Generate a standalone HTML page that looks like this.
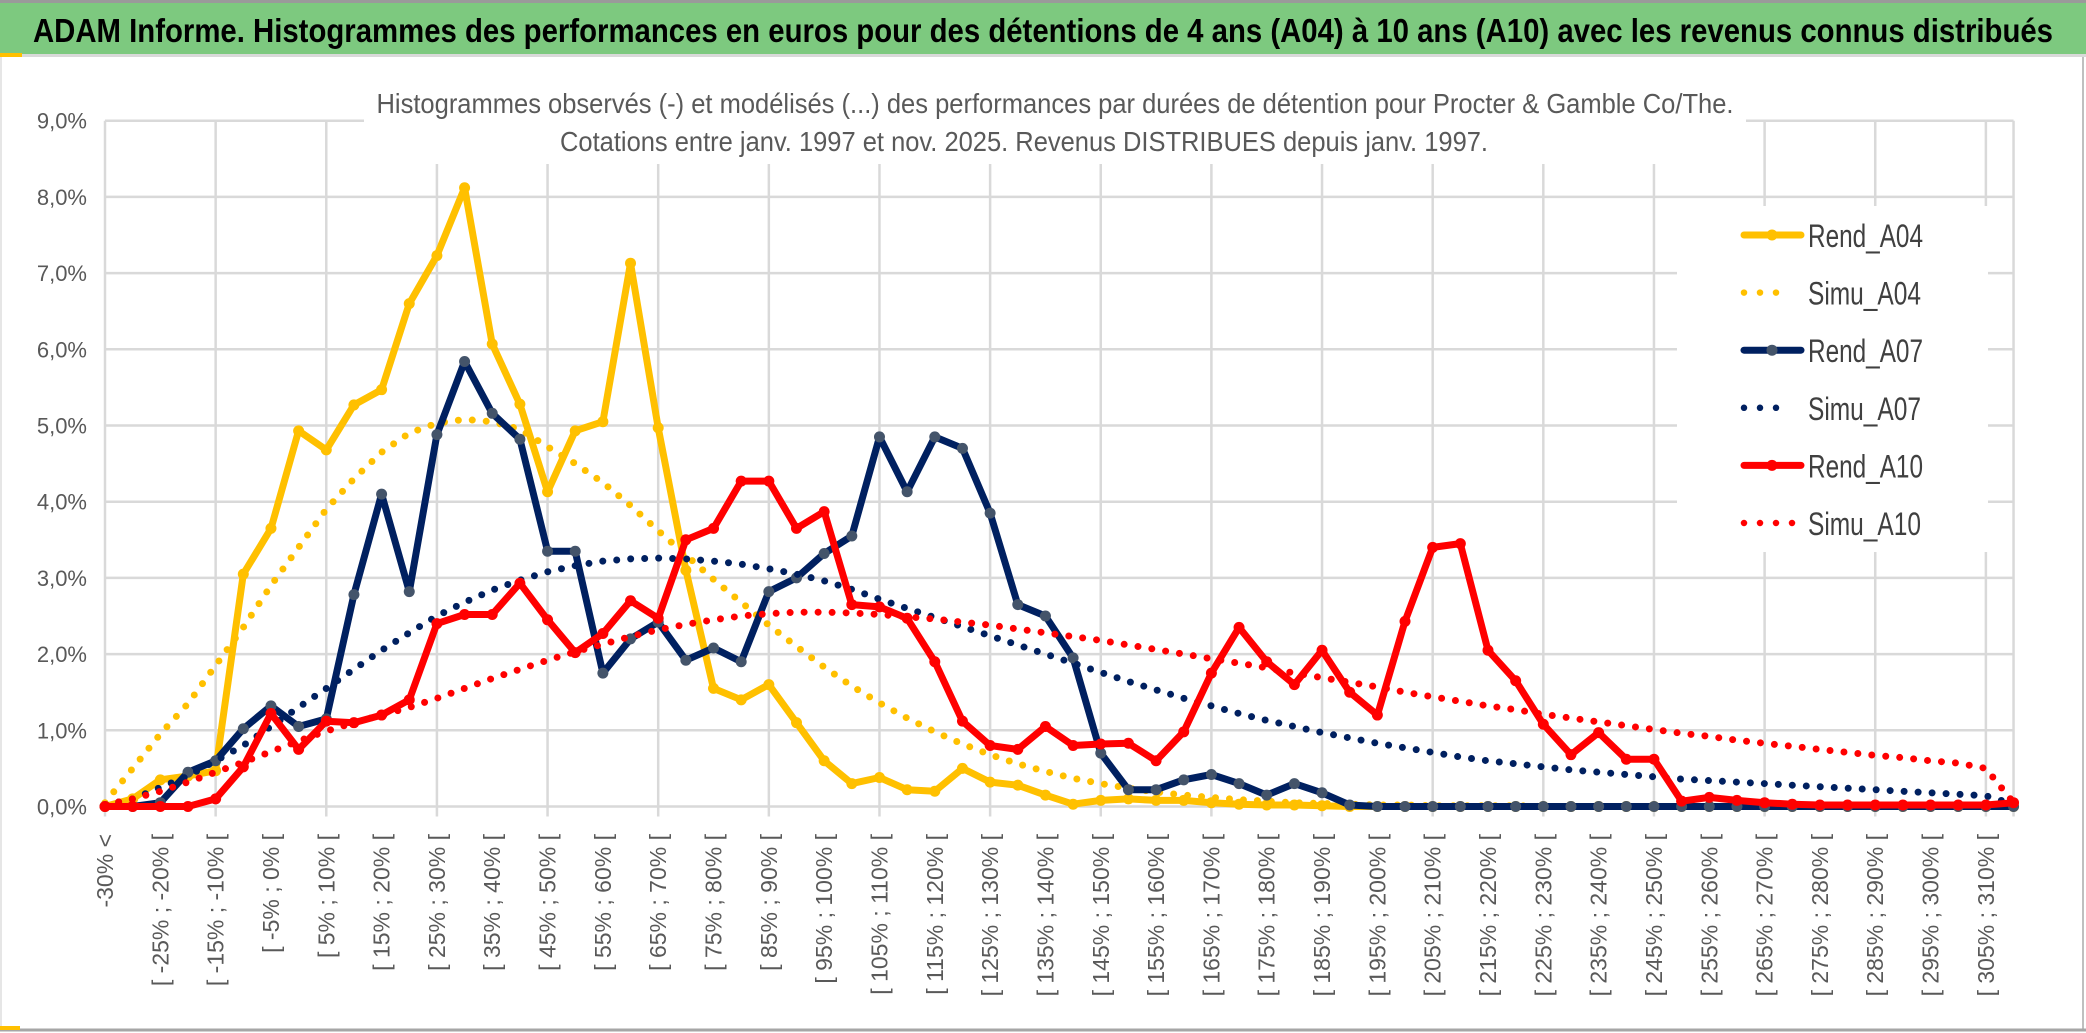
<!DOCTYPE html>
<html><head><meta charset="utf-8"><style>
html,body{margin:0;padding:0;background:#fff;}
svg{display:block;}
</style></head><body>
<svg id="chart" width="2086" height="1033" viewBox="0 0 2086 1033" xmlns="http://www.w3.org/2000/svg" font-family="'Liberation Sans', sans-serif">
<rect x="0" y="0" width="2086" height="1033" fill="#fff"/>
<rect x="0" y="3" width="2086" height="51" fill="#7DC97F"/>
<rect x="0" y="0" width="2086" height="3" fill="#9a9a9a"/>
<rect x="0" y="54" width="2086" height="3" fill="#d9d9d9"/>
<rect x="0" y="53" width="22" height="4" fill="#FFC000"/>
<text x="33" y="42" font-size="33" font-weight="bold" fill="#000" textLength="2020" lengthAdjust="spacingAndGlyphs">ADAM Informe. Histogrammes des performances en euros pour des détentions de 4 ans (A04) à 10 ans (A10) avec les revenus connus distribués</text>
<line x1="2083" y1="57" x2="2083" y2="1030" stroke="#bfbfbf" stroke-width="2"/>
<line x1="1" y1="57" x2="1" y2="1030" stroke="#e6e6e6" stroke-width="2"/>
<line x1="0" y1="1030" x2="2086" y2="1030" stroke="#a6a6a6" stroke-width="3"/>
<rect x="0" y="1026" width="20" height="4" fill="#FFC000"/>
<g id="grid"></g>
<rect x="364" y="80" width="1382" height="84" fill="#fff"/>
<text x="1055" y="113" font-size="28" fill="#595959" text-anchor="middle" textLength="1357" lengthAdjust="spacingAndGlyphs">Histogrammes observés (-) et modélisés (...) des performances par durées de détention pour Procter &amp; Gamble Co/The.</text>
<text x="1024" y="151" font-size="28" fill="#595959" text-anchor="middle" textLength="928" lengthAdjust="spacingAndGlyphs">Cotations entre janv. 1997 et nov. 2025. Revenus DISTRIBUES depuis janv. 1997.</text>
<g id="yticks"></g>
<g id="xticks"></g>
<g id="series"></g>
<g id="legend"></g>
</svg>
<script>
const rendA04 = [0,0.1,0.35,0.4,0.47,3.05,3.65,4.93,4.68,5.27,5.47,6.6,7.23,8.12,6.07,5.28,4.13,4.93,5.05,7.13,4.97,3.1,1.55,1.4,1.6,1.1,0.6,0.3,0.38,0.22,0.2,0.5,0.32,0.28,0.15,0.03,0.08,0.1,0.08,0.08,0.05,0.03,0.02,0.02,0.01,0,0,0,0,0,0,0,0,0,0,0,0,0,0,0,0,0,0,0,0,0,0,0,0,0];
const simuA04 = [0.05,0.5,0.95,1.35,1.85,2.35,2.9,3.4,3.9,4.3,4.65,4.9,5.03,5.08,5.05,4.95,4.72,4.5,4.25,3.95,3.62,3.3,2.98,2.68,2.38,2.1,1.83,1.58,1.36,1.16,0.98,0.82,0.68,0.56,0.46,0.37,0.3,0.24,0.19,0.15,0.12,0.09,0.07,0.05,0.04,0.03,0.02,0.02,0.01,0.01,0.01,0.01,0,0,0,0,0,0,0,0,0,0,0,0,0,0,0,0,0,0];
const rendA07 = [0,0,0.05,0.45,0.6,1.02,1.32,1.05,1.15,2.78,4.1,2.82,4.88,5.84,5.16,4.82,3.35,3.35,1.75,2.2,2.42,1.92,2.08,1.9,2.82,3.0,3.32,3.55,4.85,4.13,4.85,4.7,3.85,2.65,2.5,1.95,0.7,0.22,0.22,0.35,0.42,0.3,0.15,0.3,0.18,0.02,0,0,0,0,0,0,0,0,0,0,0,0,0,0,0,0,0,0,0,0,0,0,0,0];
const simuA07 = [0.02,0.1,0.25,0.4,0.6,0.8,1.05,1.3,1.55,1.8,2.05,2.28,2.5,2.68,2.84,2.97,3.08,3.16,3.22,3.25,3.26,3.25,3.22,3.18,3.12,3.05,2.96,2.85,2.72,2.6,2.48,2.36,2.24,2.12,2.0,1.88,1.76,1.64,1.53,1.42,1.32,1.22,1.13,1.05,0.97,0.9,0.83,0.77,0.71,0.65,0.6,0.56,0.52,0.48,0.45,0.42,0.39,0.36,0.34,0.32,0.3,0.28,0.26,0.24,0.22,0.2,0.18,0.16,0.14,0.03];
const rendA10 = [0,0,0,0,0.1,0.52,1.22,0.75,1.12,1.1,1.2,1.4,2.4,2.52,2.52,2.93,2.45,2.02,2.27,2.7,2.47,3.5,3.65,4.27,4.27,3.65,3.87,2.65,2.62,2.47,1.9,1.12,0.8,0.75,1.05,0.8,0.82,0.83,0.6,0.98,1.75,2.35,1.9,1.6,2.05,1.5,1.2,2.43,3.4,3.45,2.05,1.65,1.08,0.68,0.97,0.62,0.62,0.07,0.12,0.08,0.05,0.03,0.02,0.02,0.02,0.02,0.02,0.02,0.02,0.05];
const simuA10 = [0.02,0.1,0.2,0.32,0.45,0.58,0.72,0.86,0.99,1.1,1.2,1.3,1.42,1.55,1.68,1.8,1.92,2.03,2.13,2.23,2.32,2.39,2.45,2.5,2.53,2.55,2.55,2.54,2.52,2.49,2.46,2.42,2.38,2.33,2.28,2.23,2.18,2.12,2.06,2.0,1.94,1.88,1.82,1.75,1.69,1.63,1.57,1.5,1.44,1.38,1.32,1.27,1.21,1.16,1.11,1.06,1.01,0.96,0.92,0.87,0.83,0.79,0.75,0.71,0.67,0.64,0.6,0.57,0.5,0.05];
const yTicks = [0,1,2,3,4,5,6,7,8,9];
const seriesNames = ["Rend_A04","Simu_A04","Rend_A07","Simu_A07","Rend_A10","Simu_A10"];

const NS = "http://www.w3.org/2000/svg";
const X0 = 105, DX = 27.66, Y0 = 806.5, DY = 76.2;
function xs(i){ return X0 + i*DX; }
function ys(v){ return Y0 - v*DY; }
function mk(tag, attrs, parent){ const e=document.createElementNS(NS,tag); for(const k in attrs) e.setAttribute(k, attrs[k]); parent.appendChild(e); return e; }

const nCat = rendA04.length;
const categories = [];
for (let i=0;i<nCat;i++){
  if (i===0) categories.push("-30% <");
  else { const a=-30+5*(i-1); categories.push("[ "+a+"% ; "+(a+5)+"% ["); }
}

const grid = document.getElementById('grid');
yTicks.forEach(t=>{
  const l = mk('line',{x1:X0,x2:xs(nCat-1),y1:ys(t),y2:ys(t),stroke:'#d9d9d9','stroke-width':2.5},grid);
  
  
});
for (let i=0;i<nCat;i+=4){
  const l = mk('line',{x1:xs(i),x2:xs(i),y1:ys(9),y2:ys(0)+10,stroke:'#d9d9d9','stroke-width':2.5},grid);
  
  
}
mk('line',{x1:xs(nCat-1),x2:xs(nCat-1),y1:ys(9),y2:ys(0)+10,stroke:'#d9d9d9','stroke-width':2.5},grid);

const yg = document.getElementById('yticks');
yTicks.forEach(t=>{
  const tx = mk('text',{x:87,y:ys(t)+8,'font-size':22,fill:'#595959','text-anchor':'end'},yg);
  tx.textContent = t.toFixed(1).replace('.',',')+'%';
  
  
});

const xg = document.getElementById('xticks');
for (let i=0;i<nCat;i+=2){
  const x = xs(i)+8;
  const tx = mk('text',{x:0,y:0,'font-size':23,fill:'#595959','text-anchor':'end',transform:'translate('+x+',834) rotate(-90)'},xg);
  tx.textContent = categories[i];
  
  
}

const sg = document.getElementById('series');
function pts(arr){ return arr.map((v,i)=>xs(i).toFixed(1)+','+ys(v).toFixed(1)).join(' '); }
function solid(arr,color,mcolor,name){
  const g = mk('g',{},sg);
  
  
  mk('polyline',{points:pts(arr),fill:'none',stroke:color,'stroke-width':7,'stroke-linejoin':'round','stroke-linecap':'round'},g);
  arr.forEach((v,i)=>{
    const c = mk('circle',{cx:xs(i),cy:ys(v),r:5.5,fill:mcolor},g);
    
    
  });
}
function dotted(arr,color,name){
  const p = mk('polyline',{points:pts(arr),fill:'none',stroke:color,'stroke-width':7,'stroke-dasharray':'0 14','stroke-linecap':'round','stroke-linejoin':'round'},sg);
  
  
}
solid(rendA04,'#FFC000','#FFC000','rend-a04-line');
dotted(simuA04,'#FFC000','simu-a04-line');
solid(rendA07,'#002060','#44546A','rend-a07-line');
dotted(simuA07,'#002060','simu-a07-line');
solid(rendA10,'#FF0000','#FF0000','rend-a10-line');
dotted(simuA10,'#FF0000','simu-a10-line');

const lg = document.getElementById('legend');
mk('rect',{x:1677,y:206,width:311,height:346,fill:'#fff'},lg);
const lcolors = ['#FFC000','#FFC000','#002060','#002060','#FF0000','#FF0000'];
const lmark = ['#FFC000',null,'#44546A',null,'#FF0000',null];
seriesNames.forEach((n,k)=>{
  const y = 235 + k*57.6;
  const g = mk('g',{},lg);
  
  
  if (k%2===0){
    mk('line',{x1:1744,x2:1801,y1:y,y2:y,stroke:lcolors[k],'stroke-width':7,'stroke-linecap':'round'},g);
    mk('circle',{cx:1772,cy:y,r:5.5,fill:lmark[k]},g);
  } else {
    mk('line',{x1:1744,x2:(k===5?1801:1792),y1:y,y2:y,stroke:lcolors[k],'stroke-width':6.5,'stroke-dasharray':'0 16','stroke-linecap':'round'},g);
  }
  const t = mk('text',{x:1808,y:y+12,'font-size':32,fill:'#404040',textLength:(k%2===0?115:113),lengthAdjust:'spacingAndGlyphs'},g);
  t.textContent = n;
});
</script>
</body></html>
